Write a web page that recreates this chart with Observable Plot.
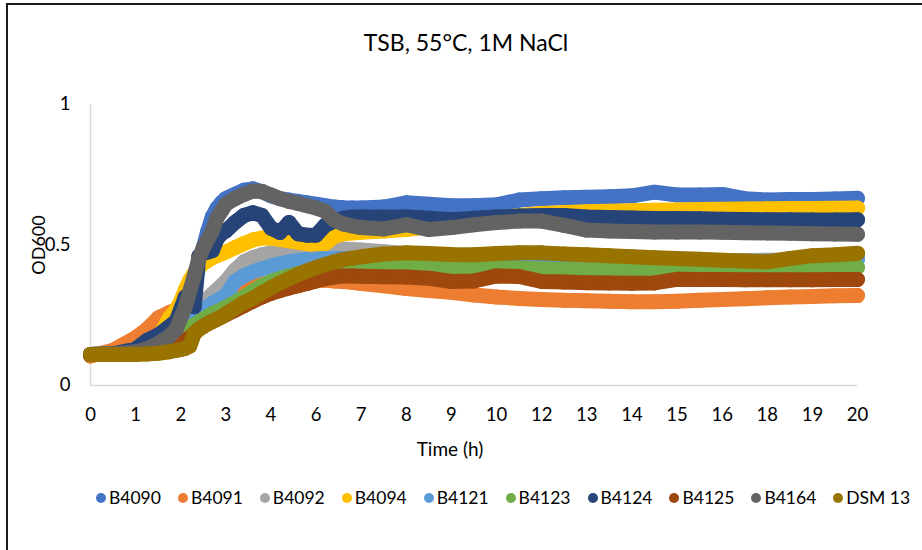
<!DOCTYPE html>
<html>
<head>
<meta charset="utf-8">
<script src="https://cdn.jsdelivr.net/npm/d3@7"></script>
<script src="https://cdn.jsdelivr.net/npm/@observablehq/plot@0.6"></script>
<style>
  html, body { margin: 0; padding: 0; background: #fff; }
  #wrap { position: relative; width: 922px; height: 550px; overflow: hidden; background: #fff; font-family: Lato, "Open Sans", sans-serif; color: #000; }
  #frame { position: absolute; left: 6px; top: 3px; right: -10px; bottom: -10px; border-left: 2px solid #1a1a1a; border-top: 2px solid #1a1a1a; }
  #title { position: absolute; left: 0; width: 932px; top: 28px; text-align: center; font-size: 23px; line-height: 28px; }
  #ylab { position: absolute; left: 38px; top: 245px; transform: translate(-50%, -50%) rotate(-90deg); font-size: 18px; line-height: 20px; white-space: nowrap; }
  #xlab { position: absolute; left: 450px; top: 449px; transform: translate(-50%, -50%); font-size: 19px; line-height: 22px; white-space: nowrap; }
  #legend { position: absolute; left: 96px; top: 486px; display: flex; font-size: 17.5px; line-height: 24px; }
  #legend .item { display: flex; align-items: center; margin-right: 17px; }
  #legend .item:last-child { margin-right: 0; }
  #legend .sw { width: 10px; height: 10px; border-radius: 50%; margin-right: 3px; }
  #chart { position: absolute; left: 0; top: 0; }
</style>
</head>
<body>
<div id="wrap">
  <div id="frame"></div>
  <div id="chart"></div>
  <div id="title">TSB, 55°C, 1M NaCl</div>
  <div id="ylab">OD600</div>
  <div id="xlab">Time (h)</div>
  <div id="legend"></div>
</div>
<script>
// Position along the (categorical) time axis, in label steps (0..17)
const timePos = [0, 0.5, 1, 1.25, 1.5, 1.75, 1.9, 2.0, 2.1, 2.2, 2.3, 2.4, 2.5, 2.6, 2.7, 2.8, 2.9, 3.0,
  3.2, 3.4, 3.6, 3.8, 4.0, 4.2, 4.4, 4.6, 4.8, 5.0, 5.2, 5.4, 5.6, 5.8, 6.0,
  6.5, 7.0, 7.5, 8.0, 8.5, 9.0, 9.5, 10.0, 10.5, 11.0, 11.5, 12.0, 12.5, 13.0, 13.5, 14.0, 14.5, 15.0, 15.5, 16.0, 16.5, 17.0];

const xTickLabels = ["0", "1", "2", "3", "4", "6", "7", "8", "9", "10", "12", "13", "14", "15", "16", "18", "19", "20"];
const yTicks = [0, 0.5, 1];

const strains = ["B4090", "B4091", "B4092", "B4094", "B4121", "B4123", "B4124", "B4125", "B4164", "DSM 13"];
const colors = ["#4472C4", "#ED7D31", "#A5A5A5", "#FFC000", "#5B9BD5", "#70AD47", "#264478", "#9E480E", "#636363", "#997300"];

const B4090 = [0.11, 0.115, 0.13, 0.15, 0.17, 0.2, 0.22, 0.25, 0.28, 0.31, 0.36, 0.42, 0.49, 0.55, 0.6, 0.63, 0.65, 0.665,
  0.68, 0.695, 0.7, 0.69, 0.675, 0.665, 0.66, 0.655, 0.65, 0.645, 0.64, 0.635, 0.633, 0.632, 0.632,
  0.635, 0.65, 0.645, 0.64, 0.64, 0.643, 0.66, 0.665, 0.668, 0.67, 0.672, 0.675, 0.688, 0.678, 0.678, 0.68, 0.665, 0.66, 0.662, 0.662, 0.664, 0.666];
const B4091 = [0.105, 0.125, 0.17, 0.2, 0.24, 0.26, 0.27, 0.275, 0.28, 0.285, 0.29, 0.295, 0.3, 0.305, 0.31, 0.315, 0.32, 0.325,
  0.335, 0.345, 0.355, 0.36, 0.365, 0.37, 0.372, 0.375, 0.375, 0.375, 0.375, 0.372, 0.37, 0.367, 0.363,
  0.355, 0.345, 0.338, 0.332, 0.322, 0.315, 0.31, 0.306, 0.303, 0.302, 0.3, 0.298, 0.298, 0.3, 0.303, 0.306, 0.309, 0.312, 0.315, 0.317, 0.319, 0.32];
const B4092 = [0.11, 0.112, 0.12, 0.13, 0.145, 0.17, 0.19, 0.21, 0.23, 0.25, 0.26, 0.28, 0.295, 0.31, 0.325, 0.34, 0.355, 0.37,
  0.41, 0.44, 0.455, 0.465, 0.472, 0.477, 0.48, 0.482, 0.484, 0.486, 0.487, 0.487, 0.486, 0.484, 0.482,
  0.476, 0.47, 0.466, 0.462, 0.46, 0.458, 0.457, 0.456, 0.455, 0.454, 0.452, 0.45, 0.448, 0.447, 0.446, 0.445, 0.445, 0.446, 0.447, 0.448, 0.45, 0.452];
const B4094 = [0.11, 0.113, 0.125, 0.14, 0.17, 0.24, 0.27, 0.3, 0.34, 0.375, 0.4, 0.42, 0.435, 0.445, 0.455, 0.462, 0.468, 0.475,
  0.49, 0.505, 0.518, 0.525, 0.525, 0.52, 0.515, 0.51, 0.505, 0.497, 0.505, 0.53, 0.54, 0.543, 0.545,
  0.55, 0.555, 0.565, 0.575, 0.585, 0.595, 0.605, 0.612, 0.616, 0.618, 0.62, 0.622, 0.624, 0.625, 0.626, 0.627, 0.628, 0.629, 0.63, 0.63, 0.631, 0.632];
const B4121 = [0.11, 0.112, 0.12, 0.13, 0.145, 0.165, 0.18, 0.195, 0.21, 0.225, 0.24, 0.255, 0.268, 0.28, 0.292, 0.302, 0.31, 0.32,
  0.37, 0.39, 0.405, 0.415, 0.425, 0.433, 0.44, 0.445, 0.448, 0.45, 0.452, 0.452, 0.452, 0.45, 0.448,
  0.443, 0.44, 0.438, 0.436, 0.435, 0.434, 0.434, 0.434, 0.434, 0.434, 0.434, 0.435, 0.436, 0.437, 0.438, 0.44, 0.441, 0.442, 0.444, 0.446, 0.448, 0.45];
const B4123 = [0.11, 0.112, 0.118, 0.125, 0.135, 0.15, 0.165, 0.18, 0.195, 0.205, 0.215, 0.225, 0.235, 0.245, 0.255, 0.262, 0.27, 0.278,
  0.295, 0.315, 0.335, 0.355, 0.37, 0.38, 0.39, 0.398, 0.405, 0.41, 0.415, 0.418, 0.42, 0.422, 0.424,
  0.426, 0.425, 0.423, 0.42, 0.419, 0.418, 0.417, 0.415, 0.413, 0.412, 0.411, 0.41, 0.41, 0.41, 0.411, 0.412, 0.413, 0.415, 0.416, 0.418, 0.42, 0.421];
const B4124 = [0.11, 0.113, 0.13, 0.16, 0.18, 0.21, 0.23, 0.27, 0.315, 0.3, 0.28, 0.46, 0.47, 0.475, 0.48, 0.52, 0.54, 0.55,
  0.58, 0.605, 0.615, 0.605, 0.56, 0.545, 0.58, 0.54, 0.535, 0.535, 0.57, 0.585, 0.595, 0.6, 0.6,
  0.6, 0.6, 0.595, 0.59, 0.595, 0.6, 0.603, 0.605, 0.605, 0.6, 0.598, 0.596, 0.594, 0.594, 0.593, 0.592, 0.591, 0.59, 0.59, 0.589, 0.589, 0.59];
const B4125 = [0.11, 0.11, 0.115, 0.118, 0.122, 0.13, 0.14, 0.15, 0.16, 0.17, 0.185, 0.2, 0.21, 0.22, 0.228, 0.236, 0.244, 0.252,
  0.268, 0.284, 0.3, 0.315, 0.328, 0.338, 0.347, 0.355, 0.363, 0.372, 0.38, 0.386, 0.39, 0.39, 0.389,
  0.387, 0.386, 0.382, 0.37, 0.372, 0.39, 0.388, 0.37, 0.368, 0.366, 0.365, 0.364, 0.365, 0.378, 0.377, 0.377, 0.376, 0.376, 0.376, 0.376, 0.377, 0.377];
const B4164 = [0.11, 0.112, 0.12, 0.13, 0.15, 0.175, 0.2, 0.24, 0.28, 0.335, 0.39, 0.45, 0.49, 0.52, 0.55, 0.595, 0.62, 0.645,
  0.665, 0.68, 0.692, 0.69, 0.678, 0.665, 0.655, 0.648, 0.64, 0.632, 0.62, 0.59, 0.575, 0.568, 0.562,
  0.557, 0.572, 0.555, 0.562, 0.572, 0.58, 0.585, 0.585, 0.57, 0.553, 0.55, 0.548, 0.546, 0.546, 0.546, 0.545, 0.544, 0.543, 0.542, 0.54, 0.539, 0.538];
const DSM13 = [0.11, 0.11, 0.11, 0.112, 0.115, 0.12, 0.125, 0.128, 0.132, 0.14, 0.185, 0.2, 0.21, 0.22, 0.228, 0.236, 0.244, 0.255,
  0.275, 0.295, 0.31, 0.33, 0.348, 0.365, 0.38, 0.395, 0.408, 0.42, 0.43, 0.44, 0.448, 0.453, 0.458,
  0.468, 0.472, 0.47, 0.466, 0.465, 0.47, 0.472, 0.472, 0.468, 0.465, 0.462, 0.458, 0.455, 0.452, 0.449, 0.446, 0.443, 0.44, 0.452, 0.462, 0.465, 0.471];

const seriesValues = [B4090, B4091, B4092, B4094, B4121, B4123, B4124, B4125, B4164, DSM13];

const data = strains.map((s, i) => seriesValues[i].map((v, j) => ({strain: s, x: timePos[j], y: v})));

const marks = [
  Plot.ruleX([0], {y1: 0, y2: 1, stroke: "#d9d9d9", strokeWidth: 1.5}),
  Plot.ruleY([0], {x1: 0, x2: 17, stroke: "#d9d9d9", strokeWidth: 1.5})
];
data.forEach((d, i) => {
  marks.push(Plot.line(d, {x: "x", y: "y", stroke: colors[i], strokeWidth: 15, strokeLinecap: "round", strokeLinejoin: "round", curve: "linear"}));
  marks.push(Plot.dot(d, {x: "x", y: "y", r: 7.5, fill: colors[i], stroke: "none"}));
});

const chart = Plot.plot({
  width: 922,
  height: 440,
  marginLeft: 90,
  marginRight: 65,
  marginTop: 104,
  marginBottom: 55,
  style: {fontFamily: "Lato, 'Open Sans', sans-serif", fontSize: "18.5px", color: "#000", background: "transparent", overflow: "visible"},
  x: {domain: [0, 17], ticks: d3.range(xTickLabels.length), tickFormat: i => xTickLabels[i], tickSize: 0, tickPadding: 22, label: null},
  y: {domain: [0, 1], ticks: yTicks, tickFormat: d => String(d), tickSize: 0, tickPadding: 20, label: null},
  marks
});
document.getElementById("chart").appendChild(chart);

const legend = document.getElementById("legend");
strains.forEach((s, i) => {
  const it = document.createElement("div");
  it.className = "item";
  const sw = document.createElement("span");
  sw.className = "sw";
  sw.style.background = colors[i];
  const tx = document.createElement("span");
  tx.textContent = s;
  it.appendChild(sw);
  it.appendChild(tx);
  legend.appendChild(it);
});
</script>
</body>
</html>
